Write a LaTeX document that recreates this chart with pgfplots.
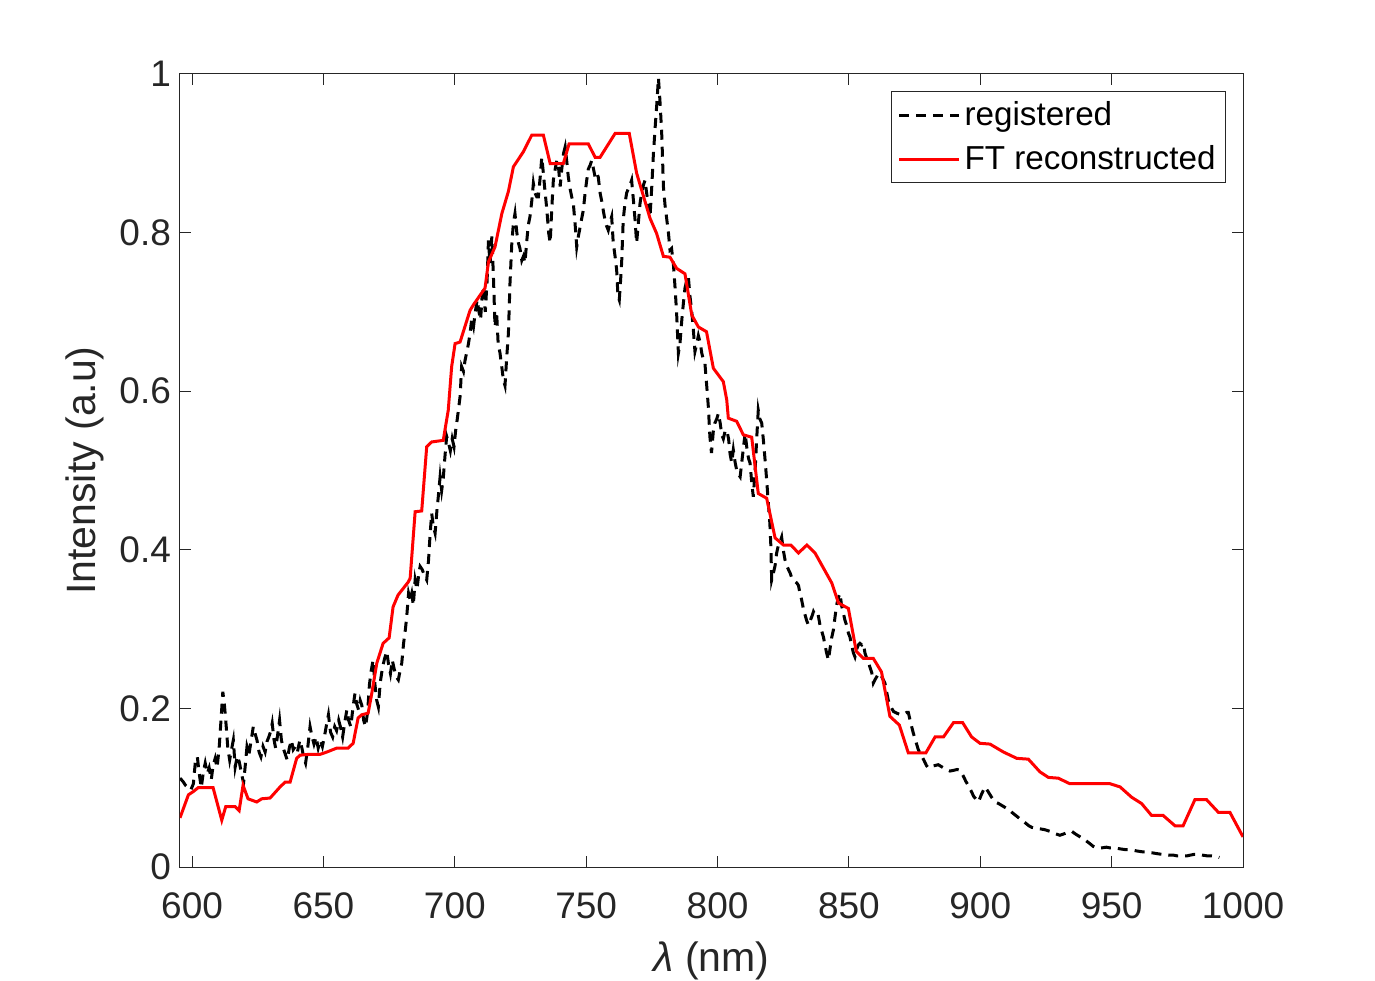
\documentclass[border=0pt]{standalone}
\usepackage{fontspec}
\setmainfont{Liberation Sans}
\usepackage{pgfplots}
\pgfplotsset{compat=1.18}
\definecolor{axgray}{HTML}{262626}
\begin{document}
\begin{tikzpicture}
\useasboundingbox (-90pt,-56.5pt) rectangle (597.5pt,433.5pt);
\begin{axis}[
  scale only axis,
  width=531.5pt, height=396.5pt,
  at={(0pt,0pt)}, anchor=south west,
  xmin=595.4, xmax=1000, ymin=0, ymax=1,
  xtick={600,650,...,1000},
  ytick={0,0.2,0.4,0.6,0.8,1},
  yticklabels={0,0.2,0.4,0.6,0.8,1},
  minor tick num=0,
  tick align=inside,
  major tick length=5.3pt,
  axis line style={color=axgray, line width=0.5pt},
  every tick/.style={color=axgray, line width=0.5pt},
  /pgf/number format/assume math mode=true,
  /pgf/number format/1000 sep={},
  tick label style={font=\fontsize{18.5}{22}\selectfont, text=axgray},
  xticklabel style={yshift=-9.5pt},
  yticklabel style={xshift=-1pt},
  xlabel={\textit{λ} (nm)},
  ylabel={Intensity (a.u)},
  label style={font=\fontsize{20.5}{24}\selectfont, text=axgray},
  xlabel style={at={(axis description cs:0.5,-0.1185)}, anchor=center},
  ylabel style={at={(axis description cs:-0.0894,0.5)}, anchor=center},
  legend style={at={(1,1)}, anchor=north east, xshift=-8.5pt, yshift=-8.5pt,
    font=\fontsize{16.6}{19}\selectfont, text=black, draw=axgray, line width=0.5pt,
    inner xsep=3pt, inner ysep=3pt, row sep=4.5pt, cells={anchor=west}},
  legend image code/.code={\draw[#1] (0pt,0pt) -- (30pt,0pt);},
]
\addplot[black, line width=1.5pt, dash pattern=on 5pt off 3.5pt] coordinates {
(595.4,0.112) (596.5,0.108) (597.5,0.103) (598.5,0.100) (599.5,0.097) (600.5,0.105)
(601.3,0.135) (602,0.139) (602.7,0.118) (603.5,0.100) (604.3,0.120) (605,0.131) (605.8,0.118) (606.5,0.125) (607.3,0.110) (608,0.128) (608.8,0.137) (609.5,0.125) (610.3,0.150) (611,0.185) (611.7,0.221) (612.3,0.205) (613,0.177) (613.6,0.150) (614.3,0.135) (615,0.148) (615.7,0.160) (616.4,0.126) (617.2,0.140) (618,0.132) (618.8,0.118) (619.6,0.106) (620.3,0.130) (620.9,0.152) (621.7,0.143) (622.5,0.160) (623.3,0.177) (624,0.168) (624.7,0.160) (625.5,0.145) (626.2,0.139) (627,0.152) (627.8,0.145) (628.5,0.158) (629.2,0.164) (630,0.172) (630.5,0.181) (631.2,0.160) (631.8,0.150) (632.5,0.165) (633.3,0.185) (634,0.160) (634.7,0.150) (635.5,0.142) (636.2,0.135) (637,0.150) (637.8,0.160) (638.5,0.148) (639.3,0.152) (640.1,0.145) (641,0.160) (641.8,0.150) (642.5,0.138) (643.2,0.131) (644,0.150) (644.9,0.177) (645.6,0.165) (646.4,0.155) (647.2,0.164) (648,0.150) (648.8,0.160) (649.6,0.152) (650.4,0.165) (651.2,0.180) (651.9,0.192) (652.7,0.170) (653.5,0.164) (654.3,0.177) (655,0.172) (655.8,0.185) (656.6,0.175) (657.3,0.164) (658,0.180) (658.9,0.198) (659.6,0.185) (660.4,0.177) (661.2,0.200) (662,0.219) (662.7,0.205) (663.4,0.198) (664,0.210) (664.6,0.204) (665.3,0.185) (666,0.177) (666.8,0.195) (667.5,0.230) (668.2,0.248) (668.9,0.261) (669.6,0.230) (670.3,0.210) (670.9,0.202) (671.6,0.232) (672.4,0.250) (673.2,0.262) (674.1,0.272) (674.8,0.255) (675.5,0.244) (676.2,0.261) (676.9,0.250) (677.7,0.240) (678.5,0.236) (679.2,0.248) (679.8,0.257) (680.5,0.282) (681.2,0.300) (681.7,0.316) (682.4,0.345) (683,0.337) (683.6,0.345) (684.2,0.330) (684.9,0.362) (685.6,0.350) (686.3,0.370) (686.8,0.379) (687.6,0.375) (688.4,0.368) (689.3,0.362) (690,0.387) (690.6,0.420) (691.2,0.446) (691.8,0.430) (692.5,0.421) (693.2,0.450) (693.8,0.470) (694.4,0.492) (695,0.475) (695.6,0.490) (696.3,0.520) (696.9,0.543) (697.6,0.535) (698.3,0.525) (699,0.540) (699.7,0.530) (700.3,0.550) (700.9,0.564) (701.5,0.580) (702,0.593) (702.6,0.631) (703.3,0.625) (703.9,0.639) (704.6,0.650) (705.2,0.660) (705.8,0.673) (706.4,0.690) (707.1,0.681) (707.8,0.700) (708.5,0.715) (709.2,0.700) (709.8,0.690) (710.4,0.720) (710.9,0.732) (711.6,0.700) (712.3,0.740) (712.8,0.790) (713.4,0.760) (714.1,0.795) (714.7,0.744) (715.3,0.681) (715.9,0.700) (716.5,0.660) (717.2,0.648) (717.9,0.630) (718.5,0.614) (719.1,0.607) (719.7,0.640) (720.4,0.673) (721,0.736) (721.7,0.787) (722.3,0.812) (722.9,0.824) (723.6,0.800) (724.2,0.787) (724.8,0.780) (725.5,0.765) (726.1,0.770) (726.7,0.762) (727.4,0.790) (728,0.810) (728.6,0.820) (729.3,0.840) (729.9,0.862) (730.5,0.850) (731.2,0.845) (731.8,0.845) (732.5,0.870) (733.1,0.895) (733.7,0.875) (734.3,0.853) (735,0.830) (735.7,0.800) (736.3,0.787) (736.9,0.830) (737.5,0.866) (738.2,0.880) (738.8,0.891) (739.4,0.885) (740.1,0.858) (740.7,0.880) (741.4,0.900) (742,0.908) (742.6,0.890) (743.2,0.870) (743.9,0.855) (744.5,0.845) (745.1,0.837) (745.8,0.810) (746.4,0.782) (747,0.795) (747.7,0.807) (748.3,0.818) (748.9,0.828) (749.6,0.850) (750.2,0.866) (750.8,0.880) (751.5,0.885) (752.1,0.891) (752.8,0.880) (753.4,0.870) (754,0.875) (754.6,0.870) (755.3,0.850) (755.9,0.840) (756.5,0.828) (757.2,0.815) (757.8,0.808) (758.4,0.803) (759,0.812) (759.7,0.820) (760.3,0.787) (761,0.770) (761.6,0.753) (762.1,0.720) (762.6,0.715) (763.1,0.740) (763.5,0.762) (764.1,0.816) (764.7,0.835) (765.4,0.850) (766,0.855) (766.7,0.860) (767.3,0.866) (768,0.840) (768.6,0.816) (769.2,0.787) (769.8,0.810) (770.5,0.837) (771.1,0.850) (771.8,0.860) (772.4,0.866) (773,0.850) (773.7,0.835) (774.3,0.820) (775,0.860) (775.6,0.900) (776.3,0.935) (776.9,0.963) (777.5,0.995) (778.2,0.960) (778.8,0.921) (779.4,0.858) (780,0.835) (780.7,0.816) (781.3,0.800) (781.9,0.778) (782.5,0.780) (783.2,0.760) (783.8,0.732) (784.4,0.700) (785.1,0.648) (785.7,0.660) (786.4,0.690) (787,0.711) (787.6,0.730) (788.3,0.740) (788.9,0.744) (789.5,0.720) (790.2,0.700) (790.8,0.677) (791.4,0.650) (792.1,0.660) (792.7,0.670) (793.4,0.661) (794,0.648) (794.6,0.640) (795.2,0.635) (795.9,0.606) (796.5,0.580) (797.1,0.542) (797.7,0.522) (798.4,0.550) (799,0.560) (799.7,0.565) (800.3,0.572) (801,0.560) (801.6,0.545) (802.2,0.540) (802.9,0.550) (803.5,0.551) (804.2,0.540) (804.8,0.520) (805.4,0.510) (806,0.526) (806.7,0.510) (807.3,0.500) (808,0.495) (808.6,0.492) (809.2,0.510) (809.9,0.530) (810.5,0.547) (811.1,0.530) (811.8,0.515) (812.4,0.509) (813,0.485) (813.6,0.467) (814.3,0.500) (814.9,0.540) (815.5,0.576) (816.1,0.565) (816.8,0.560) (817.4,0.540) (818,0.517) (818.7,0.488) (819.3,0.460) (819.9,0.434) (820.3,0.404) (820.6,0.362) (821.2,0.370) (821.9,0.380) (822.5,0.396) (823.1,0.405) (823.8,0.410) (824.4,0.416) (825,0.400) (825.7,0.387) (826.3,0.380) (827,0.375) (827.6,0.371) (828.2,0.365) (828.9,0.362) (829.5,0.360) (830.2,0.358) (830.8,0.355) (831.4,0.345) (832,0.337) (832.7,0.325) (833.3,0.318) (833.9,0.311) (834.6,0.305) (835.2,0.310) (835.9,0.316) (836.5,0.322) (837.1,0.318) (837.7,0.320) (838.3,0.318) (839,0.305) (839.6,0.298) (840.3,0.290) (840.9,0.280) (841.5,0.270) (842.2,0.261) (842.8,0.275) (843.5,0.290) (844.1,0.299) (844.7,0.315) (845.3,0.330) (846,0.340) (846.6,0.345) (847.2,0.330) (847.9,0.320) (848.5,0.311) (849.1,0.305) (849.8,0.295) (850.4,0.290) (851,0.280) (851.7,0.270) (852.3,0.265) (853,0.275) (853.6,0.280) (854.2,0.282) (854.9,0.280) (855.5,0.282) (856.1,0.270) (856.8,0.263) (857.4,0.258) (858,0.252) (858.7,0.245) (859.3,0.232) (859.9,0.236) (860.6,0.240) (861.2,0.244) (861.8,0.244) (862.5,0.240) (863.1,0.236) (863.7,0.232) (864.4,0.220) (865,0.210) (865.6,0.205) (866.3,0.200) (867,0.196) (867.6,0.195) (868.2,0.194) (869,0.193) (870,0.192) (871,0.193) (872,0.195) (872.6,0.195) (873.5,0.182) (874.5,0.169) (875.5,0.158) (876.4,0.148) (877.5,0.141) (878.5,0.135) (879.5,0.128) (880.2,0.125) (881.5,0.127) (882.8,0.128) (884,0.129) (885.5,0.126) (887,0.123) (888.5,0.121) (890,0.122) (891.2,0.123) (892.3,0.122) (893.5,0.115) (894.5,0.108) (895.4,0.103) (896.5,0.096) (897.5,0.089) (898.5,0.085) (899.3,0.082) (900.5,0.092) (901.8,0.101) (903,0.095) (904.3,0.088) (905.6,0.082) (907,0.080) (908.5,0.077) (910,0.074) (910.7,0.073) (912,0.069) (913.5,0.065) (915,0.061) (915.8,0.059) (917,0.056) (918.5,0.052) (919.6,0.050) (921,0.049) (923,0.048) (924.6,0.047) (926.5,0.045) (928.5,0.042) (930.3,0.040) (932,0.042) (933.5,0.044) (934.8,0.045) (936.5,0.041) (938,0.038) (939.9,0.034) (941.5,0.030) (943,0.026) (944.3,0.024) (946,0.024) (948,0.025) (949.5,0.024) (951.3,0.024) (953,0.023) (955,0.022) (956.5,0.022) (958.3,0.021) (960,0.020) (962,0.019) (963.5,0.019) (965.2,0.018) (967,0.017) (969,0.016) (971.6,0.015) (973.5,0.015) (975,0.014) (977,0.014) (978.6,0.014) (980,0.015) (981.5,0.016) (983,0.016) (984.5,0.015) (986.5,0.014) (988,0.014) (990,0.013) (991,0.012)
};
\addlegendentry{registered}
\addplot[red, line width=1.5pt] coordinates {
(595.4,0.062) (598.6,0.091) (600.4,0.095) (602.3,0.100) (608.0,0.100) (611.3,0.059) (612.8,0.076) (616.4,0.076) (617.9,0.071) (619.4,0.103) (621.3,0.086) (624.6,0.082) (626.5,0.086) (629.7,0.087) (633.5,0.101) (635.4,0.107) (637.3,0.107) (639.8,0.137) (641.1,0.141) (644.1,0.142) (648.7,0.142) (651.3,0.145) (655.1,0.150) (659.4,0.150) (661.3,0.156) (663.2,0.188) (664.6,0.192) (667.0,0.194) (668.4,0.219) (670.3,0.257) (672.7,0.282) (675.0,0.289) (676.5,0.328) (678.4,0.343) (682.2,0.359) (683.0,0.364) (684.9,0.448) (687.4,0.449) (689.3,0.530) (691.2,0.536) (695.6,0.538) (697.5,0.576) (698.8,0.631) (700.1,0.660) (702.0,0.662) (705.8,0.702) (707.1,0.709) (711.5,0.730) (712.8,0.763) (715.3,0.782) (717.9,0.824) (720.4,0.852) (722.3,0.883) (726.1,0.902) (729.3,0.923) (733.7,0.923) (736.3,0.887) (741.3,0.887) (743.5,0.912) (750.8,0.912) (753.4,0.895) (755.3,0.895) (761.0,0.925) (766.4,0.925) (769.2,0.875) (774.3,0.818) (776.8,0.799) (779.4,0.770) (781.9,0.769) (784.4,0.755) (787.6,0.748) (790.2,0.696) (792.7,0.681) (795.8,0.675) (798.4,0.629) (802.2,0.612) (803.5,0.589) (804.1,0.566) (807.3,0.562) (809.8,0.545) (813.0,0.542) (815.5,0.471) (818.7,0.465) (821.9,0.415) (825.1,0.406) (827.9,0.406) (830.8,0.396) (834.0,0.406) (837.1,0.396) (840.3,0.377) (843.5,0.358) (846.0,0.333) (849.8,0.326) (852.8,0.272) (855.5,0.263) (859.3,0.263) (862.4,0.246) (865.6,0.190) (869.2,0.179) (872.6,0.144) (879.3,0.144) (882.8,0.164) (886.0,0.164) (889.8,0.182) (893.3,0.182) (896.7,0.164) (899.9,0.156) (903.7,0.155) (908.8,0.145) (913.9,0.137) (918.3,0.136) (922.7,0.120) (925.9,0.113) (929.7,0.112) (934.1,0.105) (949.4,0.105) (953.2,0.101) (957.6,0.088) (961.4,0.080) (965.2,0.065) (969.6,0.065) (974.1,0.052) (977.2,0.052) (981.7,0.085) (986.1,0.085) (990.6,0.069) (995.0,0.069) (1000.0,0.038)
};
\addlegendentry{FT reconstructed}
\end{axis}
\end{tikzpicture}
\end{document}
